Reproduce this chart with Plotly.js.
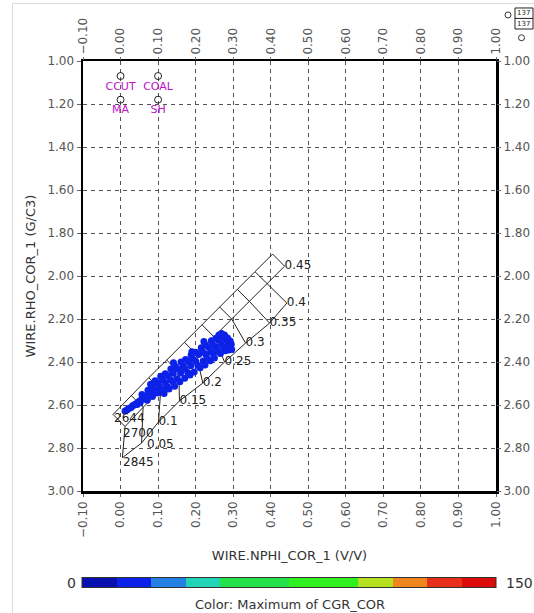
<!DOCTYPE html>
<html><head><meta charset="utf-8">
<script src="https://cdn.plot.ly/plotly-3.0.1.min.js"></script>
<style>
html,body{margin:0;padding:0;background:#fff;}
#frame{position:absolute;left:12px;top:3px;width:522px;height:610px;border-left:1px solid #dcdcdc;border-top:1px solid #dcdcdc;}
#chart{position:absolute;left:0;top:0;width:534px;height:613px;}
</style>
</head><body><div id="frame"></div><div id="chart"></div>
<script>
// Overlay chart rails (NPHI v/v, RHOB g/cc) at porosity 0, 0.05 ... 0.45
const sandN = [-0.020, 0.028, 0.075, 0.123, 0.170, 0.217, 0.264, 0.311, 0.358, 0.405];
const sandR = [2.644, 2.555, 2.473, 2.391, 2.308, 2.227, 2.144, 2.062, 1.980, 1.898];
const limeN = [0.012, 0.060, 0.107, 0.155, 0.202, 0.249, 0.296, 0.343, 0.390, 0.437];
const limeR = [2.700, 2.611, 2.529, 2.447, 2.364, 2.283, 2.200, 2.118, 2.036, 1.954];
const dolN  = [0.005, 0.056, 0.101, 0.157, 0.219, 0.277, 0.333, 0.397, 0.443];
const dolR  = [2.845, 2.777, 2.679, 2.581, 2.498, 2.400, 2.312, 2.219, 2.126];
const porLabels = ['0.05','0.1','0.15','0.2','0.25','0.3','0.35','0.4'];
const topPorLabel = '0.45';
const matLabels = ['2644','2700','2845'];

// End points
const epN = [0.00, 0.10, 0.00, 0.10];
const epR = [1.07, 1.07, 1.18, 1.18];
const epLabels = ['CCUT','COAL','MA','SH'];

// Well data points
const pN = [0.012,0.018,0.022,0.028,0.032,0.036,0.041,0.046,0.050,0.054,0.058,0.052,0.044,0.062,0.066,
0.057,0.064,0.071,
0.073,0.077,0.085,
0.080,0.086,0.090,0.098,
0.092,0.100,0.104,0.111,0.116,
0.107,0.113,0.119,0.125,0.129,
0.119,0.127,0.133,0.140,0.144,
0.134,0.140,0.151,0.158,
0.146,0.152,0.160,0.171,
0.161,0.167,0.171,0.179,0.185,
0.173,0.181,0.187,0.196,
0.188,0.192,0.200,0.206,0.212,
0.200,0.208,0.220,0.225,
0.215,0.219,0.227,0.231,0.239,
0.227,0.235,0.241,0.247,0.250,
0.242,0.246,0.254,0.260,0.266,
0.254,0.262,0.268,0.274,0.279,
0.269,0.273,0.281,0.287,0.291,
0.262,0.277,0.285,0.292,0.295,0.296,0.288,
0.141,0.190,0.222];
const pR = [2.628,2.622,2.616,2.612,2.604,2.600,2.594,2.590,2.582,2.578,2.572,2.590,2.598,2.566,2.560,
2.551,2.562,2.578,
2.531,2.549,2.560,
2.503,2.514,2.533,2.544,
2.487,2.497,2.516,2.528,2.547,
2.466,2.485,2.496,2.515,2.526,
2.455,2.464,2.484,2.493,2.513,
2.432,2.452,2.478,2.492,
2.421,2.431,2.451,2.476,
2.400,2.419,2.430,2.449,2.460,
2.388,2.398,2.418,2.447,
2.367,2.386,2.397,2.416,2.427,
2.355,2.365,2.395,2.414,
2.334,2.353,2.364,2.383,2.394,
2.322,2.332,2.352,2.362,2.381,
2.301,2.320,2.331,2.350,2.361,
2.289,2.299,2.319,2.329,2.348,
2.268,2.287,2.298,2.317,2.328,
2.274,2.274,2.288,2.302,2.318,2.342,2.344,
2.404,2.352,2.305];
const cgr = [16,19,21,14,18,23,17,20,15,22,18,16,21,19,14,
20,17,22,15,19,23,18,16,21,14,
19,22,17,20,15,18,23,16,21,19,
14,20,17,22,18,15,19,23,16,21,
18,14,20,17,22,19,15,21,18,16,
23,17,20,14,19,22,18,15,21,16,
19,23,17,20,14,18,22,15,21,19,
16,20,17,23,18,14,21,19,15,22,
17,20,16,18,23,19,14,21,17,20,
15,22,18,16,19,21];

const cbColors = ['#0810b0','#0c22e8','#2480e2','#22d4b6','#26e24a','#26e24a','#30f020','#30f020','#b4e020','#f0861e','#e6301c','#dc0c0c'];
const cbMin = 0, cbMax = 150;

const colorscale = [];
cbColors.forEach((c,i)=>{ colorscale.push([i/cbColors.length, c]); colorscale.push([(i+1)/cbColors.length, c]); });

// build rungs from rails
const rungX = [], rungY = [];
for (let i = 0; i < sandN.length; i++) {
  rungX.push(sandN[i], limeN[i]); rungY.push(sandR[i], limeR[i]);
  if (i < dolN.length) { rungX.push(dolN[i]); rungY.push(dolR[i]); }
  rungX.push(null); rungY.push(null);
}
const lineStyle = {color:'#222', width:1};
const labFont = {family:'DejaVu Sans', size:12, color:'#222'};
const traces = [
  {x:sandN, y:sandR, mode:'lines', line:lineStyle, hoverinfo:'skip', showlegend:false},
  {x:limeN, y:limeR, mode:'lines', line:lineStyle, hoverinfo:'skip', showlegend:false},
  {x:dolN, y:dolR, mode:'lines', line:lineStyle, hoverinfo:'skip', showlegend:false},
  {x:rungX, y:rungY, mode:'lines', line:lineStyle, hoverinfo:'skip', showlegend:false},
  {x:pN, y:pR, mode:'markers', showlegend:false, hoverinfo:'x+y',
   marker:{size:7, color:cgr, colorscale:colorscale, cmin:cbMin, cmax:cbMax, line:{width:0},
     showscale:true,
     colorbar:{orientation:'h', x:0.5, xanchor:'center', y:-0.214, yanchor:'middle',
       len:414, lenmode:'pixels', thickness:10, thicknessmode:'pixels',
       outlinewidth:1, outlinecolor:'#333', showticklabels:false, ticks:'', xpad:0, ypad:0}}},
  {x:dolN.slice(2), y:dolR.slice(2), mode:'text', text:porLabels.slice(1), textposition:'middle right',
   textfont:labFont, hoverinfo:'skip', showlegend:false},
  {x:[limeN[limeN.length-1]], y:[limeR[limeR.length-1]], mode:'text', text:[topPorLabel], textposition:'middle right',
   textfont:labFont, hoverinfo:'skip', showlegend:false},
  {x:epN, y:epR, mode:'markers+text', text:epLabels, textposition:'bottom center',
   marker:{symbol:'circle-open', size:7, color:'#222', line:{width:1}},
   textfont:{family:'DejaVu Sans', size:11, color:'#c010c8'}, hoverinfo:'skip', showlegend:false},
  {x:[null], y:[null], xaxis:'x2', yaxis:'y2', mode:'markers', showlegend:false, hoverinfo:'skip'}
];

const pointLabel = (x, y, text, dx, dy) => ({xref:'x', yref:'y', x:x, y:y, text:text, showarrow:false,
  xanchor:'left', yanchor:'middle', xshift:dx, yshift:dy, font:labFont});

const tickFont = {family:'DejaVu Sans', size:12, color:'#555'};
const titleFont = {family:'DejaVu Sans', size:13, color:'#333'};
const layout = {
  width:534, height:613,
  margin:{l:83, r:38, t:61, b:122},
  paper_bgcolor:'rgba(0,0,0,0)', plot_bgcolor:'#fff',
  showlegend:false,
  xaxis:{range:[-0.1, 1.0], tick0:-0.1, dtick:0.1, tickformat:'.2f', tickangle:-90, tickfont:tickFont,
    ticks:'outside', ticklen:3, tickcolor:'#666',
    showgrid:true, gridcolor:'#555', gridwidth:1, griddash:'4px,4px',
    zeroline:false, showline:true, mirror:true, linecolor:'#000', linewidth:2.5,
    title:{text:'WIRE.NPHI_COR_1 (V/V)', font:titleFont, standoff:14}, automargin:false},
  xaxis2:{range:[-0.1, 1.0], tick0:-0.1, dtick:0.1, tickformat:'.2f', tickangle:-90, tickfont:tickFont,
    overlaying:'x', side:'top', anchor:'y2', ticks:'outside', ticklen:3, tickcolor:'#666',
    showgrid:false, zeroline:false, showline:false, automargin:false},
  yaxis:{range:[3.0, 1.0], tick0:1.0, dtick:0.2, tickformat:'.2f', tickfont:tickFont,
    ticks:'outside', ticklen:4, tickcolor:'#666',
    showgrid:true, gridcolor:'#555', gridwidth:1, griddash:'4px,4px',
    zeroline:false, showline:true, mirror:true, linecolor:'#000', linewidth:2.5,
    title:{text:'WIRE.RHO_COR_1 (G/C3)', font:titleFont, standoff:9}, automargin:false},
  yaxis2:{range:[3.0, 1.0], tick0:1.0, dtick:0.2, tickformat:'.2f', tickfont:tickFont,
    overlaying:'y', side:'right', anchor:'x', ticks:'outside', ticklen:4, tickcolor:'#666',
    showgrid:false, zeroline:false, showline:false, automargin:false},
  annotations:[
    pointLabel(sandN[0], sandR[0], matLabels[0], -1, -4),
    pointLabel(limeN[0], limeR[0], matLabels[1], -4, -6),
    pointLabel(dolN[0], dolR[0], matLabels[2], -1, -4),
    pointLabel(dolN[1], dolR[1], porLabels[0], 3, -1),
    {xref:'paper', yref:'paper', x:-0.029, y:-0.214, xanchor:'center', yanchor:'middle', text:'0', showarrow:false, font:{family:'DejaVu Sans', size:14, color:'#333'}},
    {xref:'paper', yref:'paper', x:1.056, y:-0.214, xanchor:'center', yanchor:'middle', text:'150', showarrow:false, font:{family:'DejaVu Sans', size:14, color:'#333'}},
    {xref:'paper', yref:'paper', x:0.501, y:-0.263, xanchor:'center', yanchor:'middle', text:'Color: Maximum of CGR_COR', showarrow:false, font:titleFont},
    {xref:'paper', yref:'paper', x:1.0666, y:1.1116, xanchor:'center', yanchor:'middle', text:'137', showarrow:false, font:{family:'DejaVu Sans', size:7, color:'#222'}},
    {xref:'paper', yref:'paper', x:1.0666, y:1.0860, xanchor:'center', yanchor:'middle', text:'137', showarrow:false, font:{family:'DejaVu Sans', size:7, color:'#222'}}
  ],
  shapes:[
    {type:'rect', xref:'paper', yref:'paper', x0:1.0460, x1:1.0896, y0:1.0744, y1:1.1233, line:{color:'#222', width:1}},
    {type:'line', xref:'paper', yref:'paper', x0:1.0460, x1:1.0896, y0:1.099, y1:1.099, line:{color:'#222', width:1}},
    {type:'circle', xref:'paper', yref:'paper', x0:1.0218, x1:1.0363, y0:1.10, y1:1.114, line:{color:'#333', width:1}},
    {type:'circle', xref:'paper', yref:'paper', x0:1.0545, x1:1.0690, y0:1.0470, y1:1.0610, line:{color:'#333', width:1}}
  ]
};
Plotly.newPlot('chart', traces, layout, {displayModeBar:false, staticPlot:true});
</script></body></html>
